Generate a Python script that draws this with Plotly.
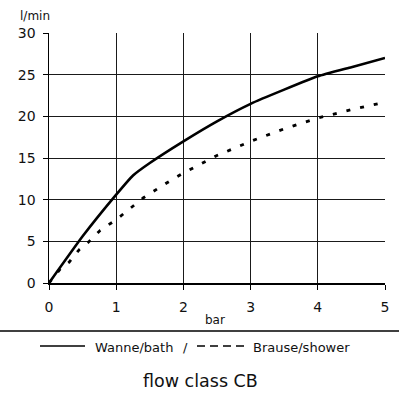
import plotly.graph_objects as go

bath_x = [0, 0.5, 1, 1.25, 1.5, 2, 2.5, 3, 3.5, 4, 4.5, 5]
bath_y = [0, 5.6, 10.6, 12.9, 14.4, 17.0, 19.4, 21.5, 23.2, 24.8, 25.9, 27.0]

shower_x = [0, 0.17, 0.3, 0.45, 0.6, 0.76, 1.0, 1.2, 1.4, 1.75, 2.0, 2.5, 3.0, 3.5, 4.0, 4.5, 5.0]
shower_y = [0, 1.7, 2.5, 4.0, 5.0, 6.3, 7.6, 8.9, 10.2, 12.0, 13.2, 15.3, 17.0, 18.5, 19.8, 20.8, 21.7]

x_ticks = [0, 1, 2, 3, 4, 5]
y_ticks = [0, 5, 10, 15, 20, 25, 30]
x_grid = [1, 2, 3, 4]
y_grid = [5, 10, 15, 20, 25]

legend_labels = ["Wanne/bath", "/", "Brause/shower"]
title_text = "flow class CB"
x_title = "bar"
y_title = "l/min"

FONT = "DejaVu Sans, sans-serif"
INK = "#111111"

W, H = 400, 400
L, R, T, B = 49, 15, 33, 117
pw, ph = W - L - R, H - T - B
BOTTOM = T + ph


def px(x):
    return (x - L) / pw


def py(y):
    return (BOTTOM - y) / ph


fig = go.Figure()
# empty trace that carries the grid-only overlay axes
fig.add_trace(go.Scatter(x=[], y=[], xaxis="x2", yaxis="y2", showlegend=False, hoverinfo="skip"))
fig.add_trace(go.Scatter(x=bath_x, y=bath_y, mode="lines", name=legend_labels[0],
                         line=dict(color="black", width=2.6, shape="spline", smoothing=0.4)))
fig.add_trace(go.Scatter(x=shower_x, y=shower_y, mode="lines", name=legend_labels[2],
                         line=dict(color="black", width=2.8, dash="4px,10px")))

axis_common = dict(showline=True, linecolor="black", linewidth=1.5, ticks="outside", ticklen=5,
                   tickwidth=1, tickcolor="black", zeroline=False, fixedrange=True,
                   showgrid=False, automargin=False, tickfont=dict(size=14, color=INK))
grid_common = dict(showgrid=True, gridcolor="#1a1a1a", gridwidth=1, showticklabels=False,
                   ticks="", showline=False, zeroline=False, fixedrange=True, automargin=False)

fig.update_layout(
    width=W, height=H,
    margin=dict(l=L, r=R, t=T, b=B),
    paper_bgcolor="white", plot_bgcolor="white",
    font=dict(family=FONT, size=13, color=INK),
    showlegend=False,
    hovermode=False,
    xaxis=dict(range=[0, 5], tickvals=x_ticks, ticklabelstandoff=6, **axis_common),
    yaxis=dict(range=[0, 30], tickvals=y_ticks, ticklabelstandoff=4, **axis_common),
    xaxis2=dict(range=[0, 5], tickvals=x_grid, overlaying="x", anchor="y2", **grid_common),
    yaxis2=dict(range=[0, 30], tickvals=y_grid, overlaying="y", anchor="x2", **grid_common),
    shapes=[
        dict(type="line", xref="paper", yref="paper", x0=px(0), x1=px(399),
             y0=py(331), y1=py(331), line=dict(color="black", width=1.5)),
        dict(type="line", xref="paper", yref="paper", x0=px(40), x1=px(85),
             y0=py(346), y1=py(346), line=dict(color="black", width=1.5)),
        dict(type="line", xref="paper", yref="paper", x0=px(197), x1=px(244),
             y0=py(346), y1=py(346), line=dict(color="black", width=1.5, dash="8px,5px")),
    ],
    annotations=[
        dict(text=y_title, xref="paper", yref="paper", x=px(18), y=py(16),
             xanchor="left", yanchor="middle", showarrow=False, font=dict(size=12)),
        dict(text=x_title, xref="paper", yref="paper", x=px(215), y=py(320),
             xanchor="center", yanchor="middle", showarrow=False, font=dict(size=12)),
        dict(text=legend_labels[0], xref="paper", yref="paper", x=px(93), y=py(347),
             xanchor="left", yanchor="middle", showarrow=False, font=dict(size=13)),
        dict(text=legend_labels[1], xref="paper", yref="paper", x=px(185), y=py(347),
             xanchor="center", yanchor="middle", showarrow=False, font=dict(size=13)),
        dict(text=legend_labels[2], xref="paper", yref="paper", x=px(251), y=py(347),
             xanchor="left", yanchor="middle", showarrow=False, font=dict(size=13)),
        dict(text=title_text, xref="paper", yref="paper", x=px(200), y=py(381),
             xanchor="center", yanchor="middle", showarrow=False, font=dict(size=17.5)),
    ],
)

fig.write_html("out.html", config={"displayModeBar": False, "staticPlot": True},
               post_script="document.body.style.margin='0px';document.body.style.overflow='hidden';")
